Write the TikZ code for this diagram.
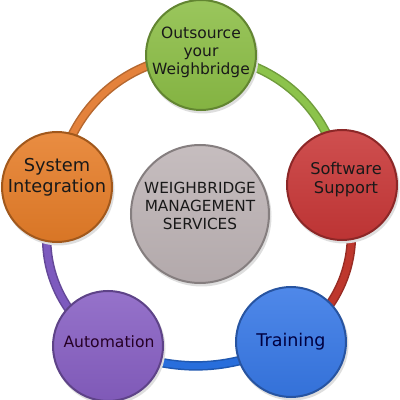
\documentclass[tikz,border=0pt]{standalone}
\usepackage{fontspec}
\setmainfont{DejaVu Sans}
\usetikzlibrary{backgrounds}
\definecolor{cgreen}{RGB}{140,190,70}
\definecolor{cred}{RGB}{200,55,55}
\definecolor{corange}{RGB}{230,125,40}
\definecolor{cblue}{RGB}{55,120,230}
\definecolor{cpurple}{RGB}{135,95,195}
\definecolor{cgray}{RGB}{190,180,182}
\definecolor{rgreen}{RGB}{140,195,75}
\definecolor{rred}{RGB}{190,55,45}
\definecolor{rorange}{RGB}{228,130,60}
\definecolor{rblue}{RGB}{40,110,220}
\definecolor{rpurple}{RGB}{125,90,190}
\begin{document}
\begin{tikzpicture}[x=1pt,y=1pt]
\tikzset{
  ball/.style={circle, minimum size=110pt, inner sep=0pt, draw=#1!70!black, line width=2pt,
    top color=#1!88!white, bottom color=#1!94!black},
  bigball/.style={ball=#1, minimum size=138pt},
  lbl/.style={align=center, text=black!90, inner sep=0pt},
  ringdark/.style={line width=9.5pt, draw=#1!80!black},
  ringmain/.style={line width=6.5pt, draw=#1},
  shade/.style={fill=black!13},
}
\useasboundingbox (0,0) rectangle (400,400);

\node[ball=cgreen] (out) at (201,345) {};
\node[ball=cred] (soft) at (342,215) {};
\node[ball=corange] (sys) at (57,213) {};
\node[ball=cblue] (train) at (291,58) {};
\node[ball=cpurple] (auto) at (108,54) {};
\node[bigball=cgray] (mid) at (200,186) {};

\node[lbl, font=\fontsize{15.5}{18}\selectfont] (outt) at (201,347.5) {Outsource\\your\\Weighbridge};
\node[lbl, font=\fontsize{16.2}{19}\selectfont] (softt) at (346,220) {Software\\Support};
\node[lbl, font=\fontsize{17.8}{21}\selectfont] (syst) at (57,223) {System\\Integration};
\node[lbl, text=blue!25!black, font=\fontsize{17.5}{21}\selectfont] (traint) at (291,58) {Training};
\node[lbl, text=violet!30!black, font=\fontsize{15.6}{19}\selectfont] (autot) at (109,58) {Automation};
\node[lbl, font=\fontsize{15.3}{18}\selectfont] (midt) at (200,194) {WEIGHBRIDGE\\MANAGEMENT\\SERVICES};

\begin{scope}[on background layer]
  \draw[ringdark=rorange] (sys.center) to[bend left=41] (out.center);
  \draw[ringmain=rorange] (sys.center) to[bend left=41] (out.center);
  \draw[ringdark=rgreen] (out.center) to[bend left=40] (soft.center);
  \draw[ringmain=rgreen] (out.center) to[bend left=40] (soft.center);
  \draw[ringdark=rred] (soft.center) to[bend left=39] (train.center);
  \draw[ringmain=rred] (soft.center) to[bend left=39] (train.center);
  \draw[ringdark=rblue] (train.center) to[bend left=24] (auto.center);
  \draw[ringmain=rblue] (train.center) to[bend left=24] (auto.center);
  \draw[ringdark=rpurple] (auto.center) to[bend left=40] (sys.center);
  \draw[ringmain=rpurple] (auto.center) to[bend left=40] (sys.center);
  \fill[shade] ([shift={(1.5,-2.5)}]out.center) circle (56pt);
  \fill[shade] ([shift={(1.5,-2.5)}]soft.center) circle (56pt);
  \fill[shade] ([shift={(1.5,-2.5)}]sys.center) circle (56pt);
  \fill[shade] ([shift={(1.5,-2.5)}]train.center) circle (56pt);
  \fill[shade] ([shift={(1.5,-2.5)}]auto.center) circle (56pt);
  \fill[shade] ([shift={(1.5,-2.5)}]mid.center) circle (70pt);
\end{scope}
\end{tikzpicture}
\end{document}
